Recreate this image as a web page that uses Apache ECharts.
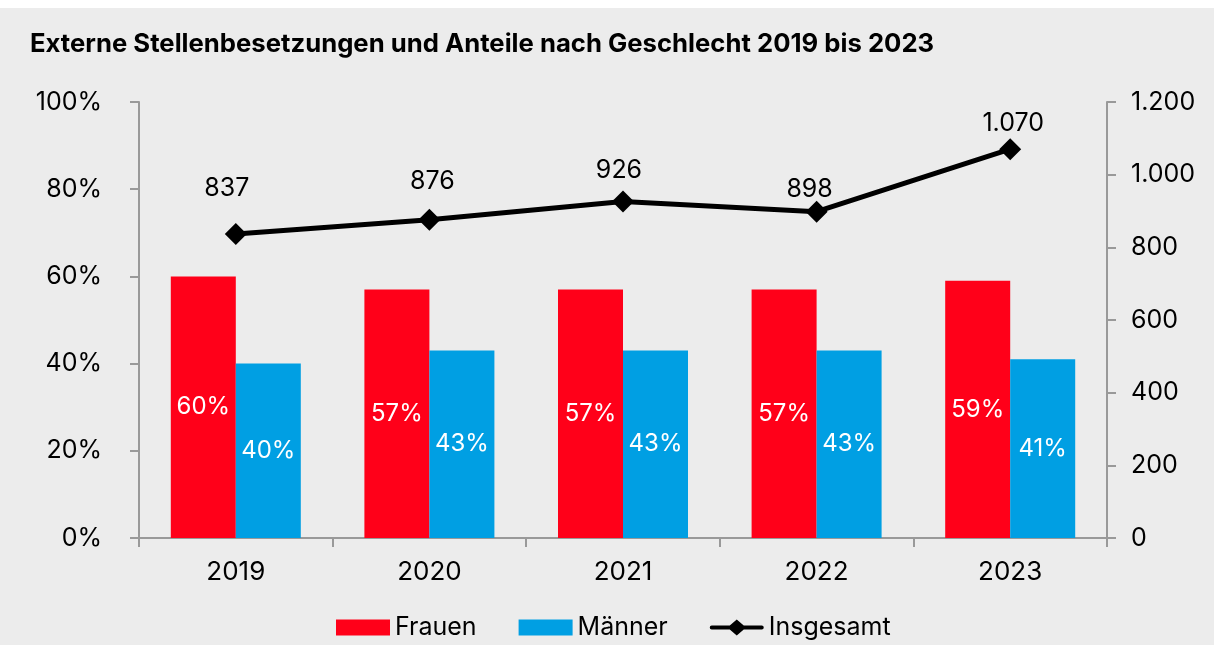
<!DOCTYPE html>
<html>
<head>
<meta charset="utf-8">
<script src="https://cdn.jsdelivr.net/npm/echarts@6/dist/echarts.min.js"></script>
<style>
  html, body { margin: 0; padding: 0; background: #fff; }
  #main { position: absolute; left: 0; top: 8px; width: 1214px; height: 637px; background: #ececec; }
</style>
</head>
<body>
<div id="main"></div>
<script>
// Daten
var jahre = ['2019', '2020', '2021', '2022', '2023'];
var frauen = [60, 57, 57, 57, 59];
var maenner = [40, 43, 43, 43, 41];
var insgesamt = [837, 876, 926, 898, 1070];

// Versatz der Wertbeschriftungen der Linie (wie im Original von Hand gesetzt)
var labelVersatz = [[-9, -45], [3, -38], [-4, -31], [-7, -22], [3, -26]];

var schrift = 'Inter, "Noto Sans", sans-serif';

// Legendensymbol: dicke Linie mit Raute
var linienIcon = 'path://M2,6 L20,6 L27,0 L34,6 L52,6 Q54,6 54,8 Q54,10 52,10 L34,10 L27,16 L20,10 L2,10 Q0,10 0,8 Q0,6 2,6 Z';

var myChart = echarts.init(document.getElementById('main'));

function deZahl(v) {
    return Number(v).toLocaleString('de-DE');
}

var option = {
    backgroundColor: '#ececec',
    textStyle: { fontFamily: schrift },
    title: {
        text: 'Externe Stellenbesetzungen und Anteile nach Geschlecht 2019 bis 2023',
        left: 25,
        top: 18,
        textStyle: { fontSize: 25.7, fontWeight: 'bold', color: '#000', fontFamily: schrift }
    },
    legend: {
        left: 336,
        top: 607,
        padding: 0,
        itemGap: 42,
        itemWidth: 54,
        itemHeight: 16,
        textStyle: { fontSize: 25, color: '#000', fontFamily: schrift },
        data: [
            { name: 'Frauen', icon: 'rect' },
            { name: 'Männer', icon: 'rect' },
            { name: 'Insgesamt', icon: linienIcon, itemStyle: { color: '#000' } }
        ]
    },
    grid: { left: 139, right: 107, top: 94, bottom: 107 },
    xAxis: {
        type: 'category',
        data: jahre,
        axisLine: { lineStyle: { color: '#999', width: 2 } },
        axisTick: { show: true, length: 9, lineStyle: { color: '#999', width: 2 } },
        axisLabel: { color: '#000', fontSize: 26, margin: 21 }
    },
    yAxis: [
        {
            type: 'value',
            min: 0, max: 100, interval: 20,
            axisLine: { show: true, lineStyle: { color: '#999', width: 2 } },
            axisTick: { show: true, length: 9, lineStyle: { color: '#999', width: 2 } },
            splitLine: { show: false },
            axisLabel: { color: '#000', fontSize: 25, margin: 37, formatter: '{value}%' }
        },
        {
            type: 'value',
            min: 0, max: 1200, interval: 200,
            axisLine: { show: true, lineStyle: { color: '#999', width: 2 } },
            axisTick: { show: true, length: 9, lineStyle: { color: '#999', width: 2 } },
            splitLine: { show: false },
            axisLabel: { color: '#000', fontSize: 25, margin: 24, formatter: deZahl }
        }
    ],
    series: [
        {
            name: 'Frauen',
            type: 'bar',
            data: frauen,
            barWidth: 65,
            barGap: '0%',
            itemStyle: { color: '#ff0019' },
            label: { show: true, position: 'inside', color: '#fff', fontSize: 24, formatter: '{c}%' }
        },
        {
            name: 'Männer',
            type: 'bar',
            data: maenner,
            barWidth: 65,
            itemStyle: { color: '#009fe3' },
            label: { show: true, position: 'inside', color: '#fff', fontSize: 24, formatter: '{c}%' }
        },
        {
            name: 'Insgesamt',
            type: 'line',
            yAxisIndex: 1,
            data: insgesamt.map(function (v, i) {
                return { value: v, label: { offset: labelVersatz[i] } };
            }),
            symbol: 'diamond',
            symbolSize: 22,
            lineStyle: { color: '#000', width: 5 },
            itemStyle: { color: '#000' },
            label: {
                show: true, position: 'inside', color: '#000', fontSize: 25,
                formatter: function (p) { return deZahl(p.value); }
            }
        }
    ]
};

myChart.setOption(option);
</script>
</body>
</html>
